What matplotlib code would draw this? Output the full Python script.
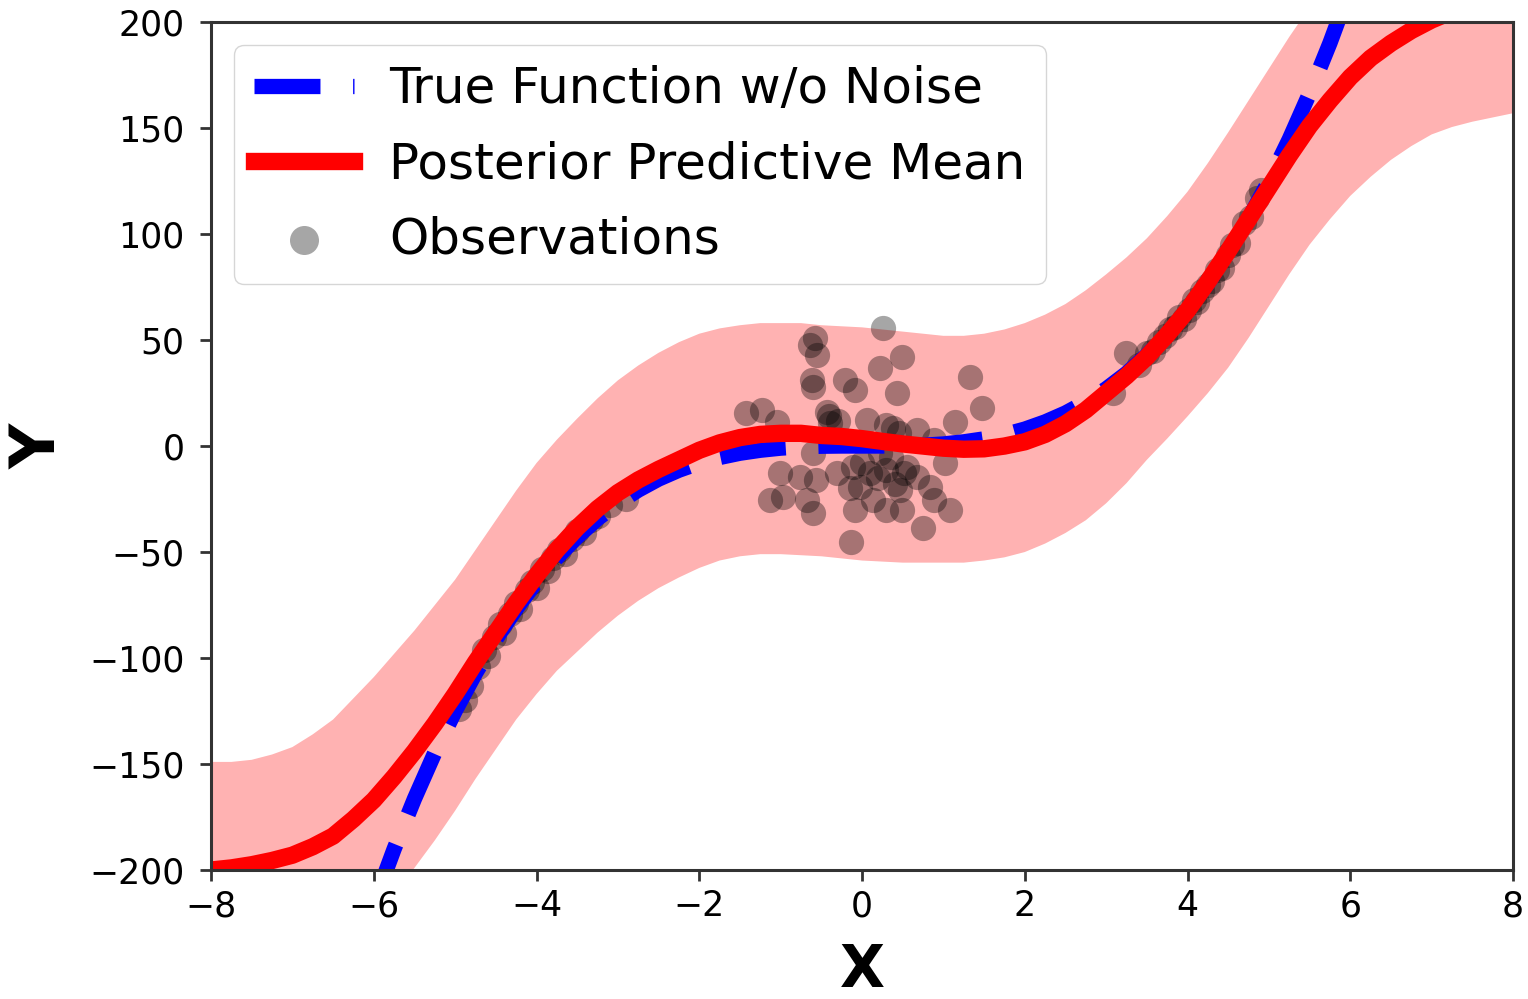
import matplotlib
matplotlib.use("Agg")
import numpy as np
from matplotlib import pyplot as plt

# curves every 0.25 in x
x_grid = [-8.0, -7.75, -7.5, -7.25, -7.0, -6.75, -6.5, -6.25, -6.0, -5.75,
          -5.5, -5.25, -5.0, -4.75, -4.5, -4.25, -4.0, -3.75, -3.5, -3.25,
          -3.0, -2.75, -2.5, -2.25, -2.0, -1.75, -1.5, -1.25, -1.0, -0.75,
          -0.5, -0.25, 0.0, 0.25, 0.5, 0.75, 1.0, 1.25, 1.5, 1.75,
          2.0, 2.25, 2.5, 2.75, 3.0, 3.25, 3.5, 3.75, 4.0, 4.25,
          4.5, 4.75, 5.0, 5.25, 5.5, 5.75, 6.0, 6.25, 6.5, 6.75,
          7.0, 7.25, 7.5, 7.75, 8.0]

true_y = [-512, -465.5, -421.9, -381.1, -343, -307.5, -274.6, -244.1, -216, -190.1,
          -166.4, -144.7, -125, -107.2, -91.1, -76.8, -64, -52.7, -42.9, -34.3,
          -27, -20.8, -15.6, -11.4, -8, -5.4, -3.4, -2.0, -1, -0.4,
          -0.1, 0.0, 0, 0.0, 0.1, 0.4, 1, 2.0, 3.4, 5.4,
          8, 11.4, 15.6, 20.8, 27, 34.3, 42.9, 52.7, 64, 76.8,
          91.1, 107.2, 125, 144.7, 166.4, 190.1, 216, 244.1, 274.6, 307.5,
          343, 381.1, 421.9, 465.5, 512]

mean_y = [-200, -199, -197.5, -195.5, -193, -189, -184, -176, -167, -156,
          -144, -131, -117, -102, -88, -74, -61, -49, -38.5, -29.5,
          -22, -16, -11, -6.5, -2, 1.5, 4, 5.5, 6, 6,
          5, 4.5, 3.5, 2.2, 1, 0, -1, -1.5, -1.3, 0,
          2, 5.5, 10.5, 17, 25, 33, 42, 52.5, 64, 77.5,
          92, 107, 122, 137, 151, 163, 174, 183, 190, 196,
          201, 205, 208, 211, 213]

upper_y = [-149, -149, -148, -145.5, -142, -136, -129, -119, -109, -98,
           -87, -75, -63, -49, -35, -21, -8, 3, 13, 22.5,
           31, 38, 44, 49, 53, 55.5, 57, 58, 58, 58,
           57, 56.5, 56, 55, 54, 53, 52, 52, 53, 55,
           58, 62, 67, 73.5, 81, 89, 98, 108.5, 120, 133.5,
           148, 163, 178, 193, 207, 219, 230, 239, 246, 252,
           257, 261, 264, 267, 269]

lower_y = [-256, -255, -253, -251, -248, -244, -238, -231, -222, -211,
           -199, -186, -172, -157, -143, -129, -117, -106, -97, -88,
           -80, -73, -67, -62, -57.5, -54, -52, -51, -51, -51.5,
           -52, -53, -54, -54.5, -55, -55, -55, -55, -54, -52.5,
           -50, -46, -41, -35, -27, -17.5, -6.5, 3.5, 14, 25,
           37, 51, 66, 81, 95, 107, 118, 127, 135, 141.5,
           147, 150.5, 153, 155, 157]

# observations, three clusters
obs_x = [-4.95, -4.88, -4.8, -4.72, -4.65, -4.6, -4.52, -4.45, -4.4, -4.33,
         -4.25, -4.2, -4.12, -4.05, -4.0, -3.93, -3.86, -3.8, -3.72, -3.65,
         -3.57, -3.5, -3.42, -3.33, -3.25, -3.1, -2.9,
         0.26, -0.58, -0.64, -0.55, 0.49, 0.22, -0.62, -0.6, -0.21, -0.09,
         0.43, 1.33, 1.47, -1.42, -1.23, -1.05, -0.43, -0.39, 0.06, 0.38,
         0.67, 1.14, 0.88, -1.01, -0.76, -0.6, -0.56, -0.31, -0.11, 0.1,
         0.3, 0.51, 0.22, 0.67, 1.02, -0.97, -0.68, -0.6, -0.09, 0.14,
         0.3, 0.49, 0.88, 1.08, 0.75, -0.13, -1.13, 0.84, -0.02, 0.47,
         -0.4, -0.3, 0.3, 0.45, 0.0, 0.2, 0.4, 0.55, -0.15, 0.35,
         3.08, 3.25, 3.4, 3.5, 3.58, 3.65, 3.72, 3.78, 3.85, 3.9,
         3.96, 4.02, 4.08, 4.12, 4.18, 4.25, 4.3, 4.36, 4.42, 4.5,
         4.55, 4.62, 4.7, 4.78, 4.85, 4.9]
obs_y = [-124, -120, -113, -104, -96, -99, -90, -84, -88, -79,
         -74, -77, -68, -64, -67, -58, -59, -53, -49, -51,
         -44, -40, -41, -35, -33, -28, -25,
         55.5, 50.8, 47.6, 43, 42, 36.6, 31, 28, 31, 26.4,
         24.8, 32.7, 17.8, 15.4, 17, 11.5, 16.2, 10.7, 12.3, 8.3,
         7.5, 11.5, 2.8, -12.9, -14.5, -3.5, -16, -12.9, -9.8, -12.9,
         -11.3, -12.9, -3.5, -14.5, -8.2, -23.9, -25.5, -31.8, -30.2, -25.5,
         -30.2, -30.2, -25.5, -30.2, -38.8, -45.1, -25.5, -19.2, -19.2, -20.8,
         14, 12, 10, 6, -8, -15, -18, -10, -20, -5,
         25, 44, 38, 44, 45, 49, 52, 55, 56, 61,
         60, 64, 69, 68, 73, 76, 78, 83, 84, 90,
         95, 96, 105, 108, 117, 121]

plt.rcParams['lines.scale_dashes'] = False

fig = plt.figure(figsize=(15.28, 9.99), dpi=100)
ax = fig.add_axes([0.1381, 0.1291, 0.8521, 0.8488])

ax.fill_between(x_grid, lower_y, upper_y, color='red', alpha=0.3, linewidth=0)
obs = ax.scatter(obs_x, obs_y, s=330, color='black', alpha=0.35, linewidths=0,
                 label='Observations')
true_line, = ax.plot(x_grid, true_y, color='blue', linewidth=11, dashes=(47.5, 23.5),
                     label='True Function w/o Noise')
mean_line, = ax.plot(x_grid, mean_y, color='red', linewidth=12.5,
                     label='Posterior Predictive Mean')

ax.set_xlim(-8, 8)
ax.set_ylim(-200, 200)
ax.set_xticks([-8, -6, -4, -2, 0, 2, 4, 6, 8])
ax.set_yticks([-200, -150, -100, -50, 0, 50, 100, 150, 200])

for s in ax.spines.values():
    s.set_linewidth(2.2)
    s.set_color('0.2')
ax.tick_params(axis='both', labelsize=25, length=8, width=2, color='0.2')
ax.tick_params(axis='y', pad=11)
ax.tick_params(axis='x', pad=6)

ax.set_xlabel('X', fontsize=42, fontweight='bold', labelpad=13)
ax.set_ylabel('Y', fontsize=45, fontweight='bold', labelpad=15)

ax.legend(handles=[true_line, mean_line, obs], loc='upper left', fontsize=36,
          handlelength=2.0, labelspacing=0.54, handletextpad=0.7,
          borderpad=0.41, borderaxespad=0.45, scatterpoints=1, markerscale=1.15)

fig.savefig('out.png', dpi=100)
